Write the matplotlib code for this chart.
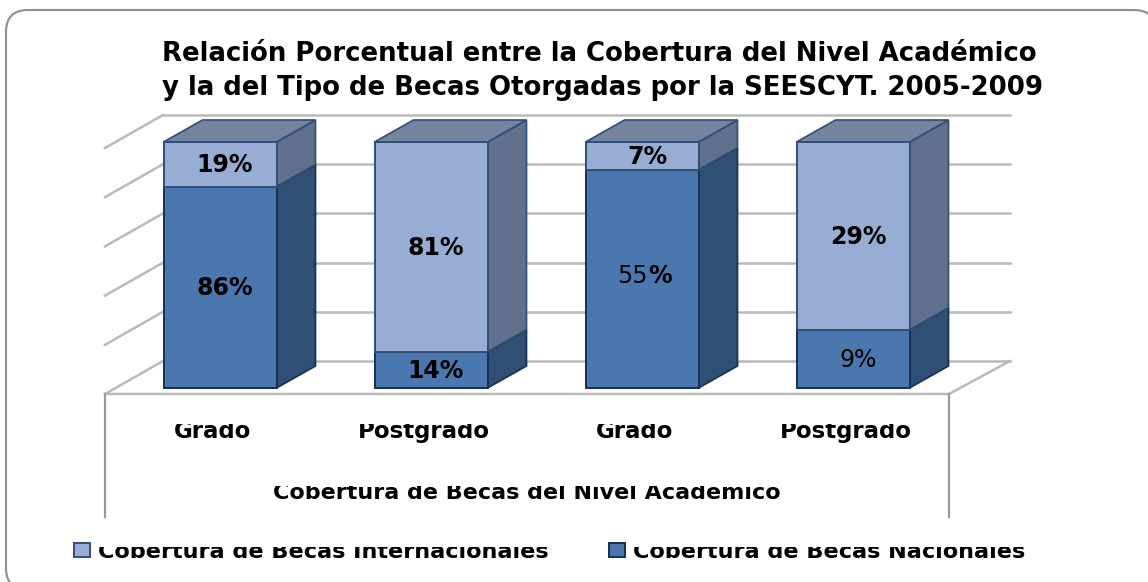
import matplotlib
matplotlib.use("Agg")
import matplotlib.pyplot as plt
from matplotlib.patches import FancyBboxPatch, Patch
from matplotlib.transforms import Bbox, TransformedBbox

W, H = 1148, 582
TITLE_LINES = ["Relación Porcentual entre la Cobertura del Nivel Académico",
               "y la del Tipo de Becas Otorgadas por la SEESCYT. 2005-2009"]
categories = ["Grado", "Postgrado", "Grado", "Postgrado"]
nacionales = [86, 14, 55, 9]
internacionales = [19, 81, 7, 29]
grid_levels = [0, 20, 40, 60, 80, 100]
axis_title = "Cobertura de Becas del Nivel Académico"
series_names = ["Cobertura de Becas Internacionales", "Cobertura de Becas Nacionales"]

C_LIGHT, C_DARK = "#97ADD4", "#4A77AD"
C_LIGHT_SIDE, C_DARK_SIDE, C_TOP = "#61718D", "#2F4F75", "#74849F"
C_EDGE_LIGHT, C_EDGE_DARK = "#2F4E78", "#16304F"
C_GRID = "#bababa"
FONT = "DejaVu Sans"

fig = plt.figure(figsize=(W / 100, H / 100), dpi=100, facecolor="white")

# pixel layer for layout items
px = fig.add_axes([0, 0, 1, 1], zorder=1)
px.set_xlim(0, W); px.set_ylim(H, 0); px.axis("off")

# data layer: category x, percent y
X0, STEP, Y0, UNIT = 220, 211, 388, 2.46
ax = fig.add_axes([0, 0, 1, 1], zorder=2)
ax.set_xlim((0 - X0) / STEP, (W - X0) / STEP)
ax.set_ylim((Y0 - H) / UNIT, Y0 / UNIT)
ax.axis("off"); ax.patch.set_alpha(0)

px.add_patch(FancyBboxPatch((6 + 22, 10 + 22), W + 8 - 6 - 44, H + 8 - 10 - 44,
                            boxstyle="round,pad=22,rounding_size=22",
                            fc="white", ec="#8e8e8e", lw=1.5, clip_on=False))

# walls
dx_bar, dy_bar = 39 / STEP, 22 / UNIT
front_dy = -6 / UNIT
back_dx, back_dy = 58 / STEP, 33 / UNIT
x_front_l, x_front_r = (105 - X0) / STEP, (949 - X0) / STEP
x_back_r = (1010 - X0) / STEP
for lv in grid_levels:
    yf = lv + front_dy
    ax.plot([x_front_l, x_front_l + back_dx], [yf, yf + back_dy], color=C_GRID, lw=1.8, zorder=1)
    ax.plot([x_front_l + back_dx, x_back_r], [yf + back_dy, yf + back_dy], color=C_GRID, lw=1.8, zorder=1)
yf = grid_levels[0] + front_dy
ax.plot([x_front_l, x_front_r, x_back_r], [yf, yf, yf + back_dy], color=C_GRID, lw=1.8, zorder=1)
for xv in (x_front_l, x_front_r):
    ax.plot([xv, xv], [yf, yf - 123 / UNIT], color="#999999", lw=1.6, zorder=1)

# bars
w = 113 / STEP
for i, (n, m) in enumerate(zip(nacionales, internacionales)):
    total = n + m
    hn, hm = 100 * n / total, 100 * m / total
    xl, xr = i - w / 2, i + w / 2
    for y0, hh, front, side, edge in ((0, hn, C_DARK, C_DARK_SIDE, C_EDGE_DARK),
                                      (hn, hm, C_LIGHT, C_LIGHT_SIDE, C_EDGE_LIGHT)):
        ax.bar(i, hh, width=w, bottom=y0, color=front, edgecolor=edge, lw=1.4, zorder=3)
        ax.fill([xr, xr + dx_bar, xr + dx_bar, xr],
                [y0, y0 + dy_bar, y0 + hh + dy_bar, y0 + hh],
                fc=side, ec=edge, lw=1.2, zorder=2.5)
    ax.fill([xl, xl + dx_bar, xr + dx_bar, xr], [100, 100 + dy_bar, 100 + dy_bar, 100],
            fc=C_TOP, ec=C_EDGE_LIGHT, lw=1.2, zorder=2.6)


def value_label(x, y, val, bold=True):
    ax.annotate(f"{val}%", (x, y), xytext=(3.6, 1.2), textcoords="offset points",
                ha="center", va="center_baseline", fontsize=17, family=FONT,
                fontweight="bold" if bold else "normal", color="black", zorder=5)


for i, (n, m) in enumerate(zip(nacionales, internacionales)):
    total = n + m
    hn, hm = 100 * n / total, 100 * m / total
    value_label(i, hm / 2 + hn, m)
    if 55 <= n < 60:
        ax.annotate(f"{n}", (i, hn / 2), xytext=(4.3, 4), textcoords="offset points", ha="right",
                    va="center_baseline", fontsize=17, family=FONT, zorder=5)
        ax.annotate("%", (i, hn / 2), xytext=(4.3, 4), textcoords="offset points", ha="left",
                    va="center_baseline", fontsize=17, family=FONT, fontweight="bold", zorder=5)
    else:
        value_label(i, hn / 2, n, bold=n != min(nacionales))


def clipped(t, top, bottom):
    t.set_clip_box(TransformedBbox(Bbox([[0, top], [W, bottom]]), px.transData))
    t.set_clip_on(True)
    return t


# title
for line, (x, base) in zip(TITLE_LINES, ((162, 61), (162, 95))):
    px.text(x, base, line, fontsize=18.7, fontweight="bold", family=FONT,
            ha="left", va="baseline", color="black")

# category labels and axis title, cut at the top as in the reference
for i, c in enumerate(categories):
    clipped(px.text(X0 + STEP * i - 7, 438, c, fontsize=16.5, fontweight="bold",
                    family=FONT, ha="center", va="baseline", color="black"), 424, 445)
clipped(px.text(527, 499, axis_title, fontsize=16, fontweight="bold", family=FONT,
                ha="center", va="baseline", color="black"), 486, 505)

# legend
handles = [Patch(fc=C_LIGHT, ec=C_EDGE_LIGHT, lw=1.4), Patch(fc=C_DARK, ec=C_EDGE_DARK, lw=1.4)]
leg = ax.legend(handles, series_names, ncol=2, loc="lower left",
                bbox_to_anchor=(74, 562), bbox_transform=px.transData,
                frameon=False, fontsize=16.1, handlelength=0.72, handleheight=0.55,
                handletextpad=0.36, columnspacing=2.7, borderpad=0, borderaxespad=0)
for t in leg.get_texts():
    t.set_fontweight("bold"); t.set_family(FONT)
    clipped(t, 547, 566)

fig.savefig("out.png", dpi=100)
